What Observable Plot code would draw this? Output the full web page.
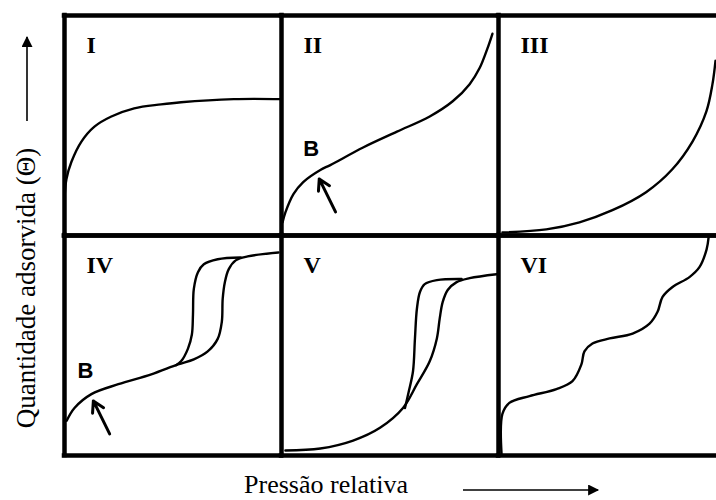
<!DOCTYPE html>
<html>
<head>
<meta charset="utf-8">
<script src="https://cdn.jsdelivr.net/npm/d3@7"></script>
<script src="https://cdn.jsdelivr.net/npm/@observablehq/plot@0.6"></script>
<style>
  html, body { margin: 0; padding: 0; background: #fff; }
  #chart { width: 716px; height: 500px; overflow: hidden; }
</style>
</head>
<body>
<div id="chart"></div>
<script>
// IUPAC adsorption isotherm types, relative pressure (0–1) vs amount adsorbed (0–1)
const panelIds = ["I", "II", "III", "IV", "V", "VI"];

// Type I
const typeI_p = [0.0, 0.009, 0.032, 0.078, 0.138, 0.216, 0.321, 0.445, 0.537, 0.78, 1.0];
const typeI_q = [0.17, 0.257, 0.335, 0.427, 0.495, 0.541, 0.578, 0.596, 0.606, 0.62, 0.62];

// Type II
const typeII_p = [0.005, 0.018, 0.055, 0.10, 0.179, 0.225, 0.376, 0.532, 0.683, 0.789, 0.867, 0.913, 0.95, 0.972];
const typeII_q = [0.06, 0.105, 0.188, 0.243, 0.298, 0.32, 0.40, 0.472, 0.541, 0.61, 0.688, 0.761, 0.853, 0.917];

// Type III
const typeIII_p = [0.018, 0.22, 0.373, 0.525, 0.68, 0.80, 0.894, 0.958, 0.986, 1.0];
const typeIII_q = [0.014, 0.028, 0.06, 0.115, 0.197, 0.30, 0.427, 0.564, 0.688, 0.794];

// Type IV: adsorption and desorption branches (hysteresis loop)
const typeIV_ads_p = [0.01, 0.046, 0.124, 0.248, 0.40, 0.523, 0.596, 0.66, 0.706, 0.725, 0.729, 0.739, 0.757, 0.789, 0.844, 0.986];
const typeIV_ads_q = [0.158, 0.216, 0.279, 0.324, 0.369, 0.414, 0.437, 0.473, 0.53, 0.608, 0.712, 0.788, 0.847, 0.887, 0.905, 0.923];
const typeIV_des_p = [0.812, 0.706, 0.642, 0.615, 0.596, 0.592, 0.587, 0.569, 0.537, 0.514];
const typeIV_des_q = [0.90, 0.892, 0.869, 0.833, 0.757, 0.64, 0.55, 0.486, 0.428, 0.41];

// Type V: adsorption and desorption branches
const typeV_ads_p = [0.018, 0.179, 0.33, 0.454, 0.56, 0.624, 0.683, 0.716, 0.729, 0.743, 0.766, 0.807, 0.867, 0.991];
const typeV_ads_q = [0.023, 0.032, 0.068, 0.126, 0.216, 0.324, 0.428, 0.532, 0.622, 0.698, 0.752, 0.788, 0.806, 0.824];
const typeV_des_p = [0.83, 0.716, 0.66, 0.638, 0.624, 0.615, 0.606, 0.587, 0.569];
const typeV_des_q = [0.802, 0.797, 0.779, 0.743, 0.667, 0.532, 0.383, 0.293, 0.216];

// Type VI: stepwise multilayer adsorption
const typeVI_p = [0.014, 0.018, 0.05, 0.143, 0.267, 0.341, 0.382, 0.396, 0.433, 0.512, 0.618, 0.696, 0.733, 0.756, 0.802, 0.88, 0.926, 0.959, 0.968];
const typeVI_q = [0.009, 0.189, 0.239, 0.27, 0.302, 0.338, 0.414, 0.473, 0.509, 0.532, 0.554, 0.599, 0.653, 0.721, 0.766, 0.811, 0.856, 0.937, 0.99];

// Point B (monolayer completion) on types II and IV
const pointB_panel = ["II", "IV"];
const pointB_p = [0.174, 0.133];
const pointB_q = [0.257, 0.248];

const yLabel = "Quantidade adsorvida (Θ)";
const xLabel = "Pressão relativa";

// Grid placement of each isotherm type: 3 columns × 2 rows
const col = id => panelIds.indexOf(id) % 3;
const row = id => Math.floor(panelIds.indexOf(id) / 3);

const curves = [];
function addBranch(panel, branch, p, q) {
  p.forEach((x, i) => curves.push({panel, branch: panel + "-" + branch, p: x, q: q[i]}));
}
addBranch("I", "ads", typeI_p, typeI_q);
addBranch("II", "ads", typeII_p, typeII_q);
addBranch("III", "ads", typeIII_p, typeIII_q);
addBranch("IV", "ads", typeIV_ads_p, typeIV_ads_q);
addBranch("IV", "des", typeIV_des_p, typeIV_des_q);
addBranch("V", "ads", typeV_ads_p, typeV_ads_q);
addBranch("V", "des", typeV_des_p, typeV_des_q);
addBranch("VI", "ads", typeVI_p, typeVI_q);

const pointsB = pointB_panel.map((panel, i) => ({panel, p: pointB_p[i], q: pointB_q[i]}));

const svg = Plot.plot({
  width: 716,
  height: 500,
  marginTop: 15,
  marginBottom: 45,
  marginLeft: 63,
  marginRight: 0,
  x: {domain: [0, 1], axis: null},
  y: {domain: [0, 1], axis: null},
  fx: {domain: [0, 1, 2], axis: null, padding: 0},
  fy: {domain: [0, 1], axis: null, padding: 0},
  style: {background: "white"},
  marks: [
    // panel borders (no outer right edge)
    Plot.ruleX([0], {stroke: "black", strokeWidth: 4.5, strokeLinecap: "square"}),
    Plot.ruleY([0, 1], {stroke: "black", strokeWidth: 4.5, strokeLinecap: "square"}),
    Plot.line(curves, {
      x: "p", y: "q", z: "branch",
      fx: d => col(d.panel), fy: d => row(d.panel),
      curve: "catmull-rom", stroke: "black", strokeWidth: 2.4, clip: false
    }),
    Plot.text(panelIds, {
      fx: d => col(d), fy: d => row(d), text: d => d,
      frameAnchor: "top-left", dx: 22, dy: 30,
      textAnchor: "start", lineAnchor: "middle",
      fontFamily: "Liberation Serif", fontWeight: "bold", fontSize: 24, fill: "black"
    }),
    Plot.arrow(pointsB, {
      fx: d => col(d.panel), fy: d => row(d.panel),
      x1: d => d.p + 0.075, y1: d => d.q - 0.15, x2: "p", y2: "q",
      headLength: 11, headAngle: 60, stroke: "black", strokeWidth: 3
    }),
    Plot.text(pointsB, {
      fx: d => col(d.panel), fy: d => row(d.panel),
      x: "p", y: "q", text: () => "B", dx: -8, dy: -30,
      fontFamily: "Liberation Sans", fontWeight: "bold", fontSize: 22, fill: "black"
    })
  ]
});

// Axis titles with direction arrows
const s = d3.select(svg);
const defs = s.append("defs");
defs.append("marker")
  .attr("id", "axis-head").attr("viewBox", "0 0 10 10")
  .attr("refX", 9).attr("refY", 5)
  .attr("markerWidth", 15).attr("markerHeight", 11)
  .attr("markerUnits", "userSpaceOnUse").attr("orient", "auto")
  .append("path").attr("d", "M0,0L10,5L0,10Z").attr("fill", "black");

s.append("text")
  .attr("transform", "translate(35,288) rotate(-90)")
  .attr("text-anchor", "middle")
  .attr("font-family", "Liberation Serif").attr("font-size", 27)
  .attr("fill", "black")
  .text(yLabel);
s.append("line")
  .attr("x1", 27).attr("y1", 121).attr("x2", 27).attr("y2", 37)
  .attr("stroke", "black").attr("stroke-width", 1.6)
  .attr("marker-end", "url(#axis-head)");

s.append("text")
  .attr("x", 326).attr("y", 493)
  .attr("text-anchor", "middle")
  .attr("font-family", "Liberation Serif").attr("font-size", 26)
  .attr("fill", "black")
  .text(xLabel);
s.append("line")
  .attr("x1", 463).attr("y1", 490).attr("x2", 598).attr("y2", 490)
  .attr("stroke", "black").attr("stroke-width", 1.6)
  .attr("marker-end", "url(#axis-head)");

document.getElementById("chart").appendChild(svg);
</script>
</body>
</html>
